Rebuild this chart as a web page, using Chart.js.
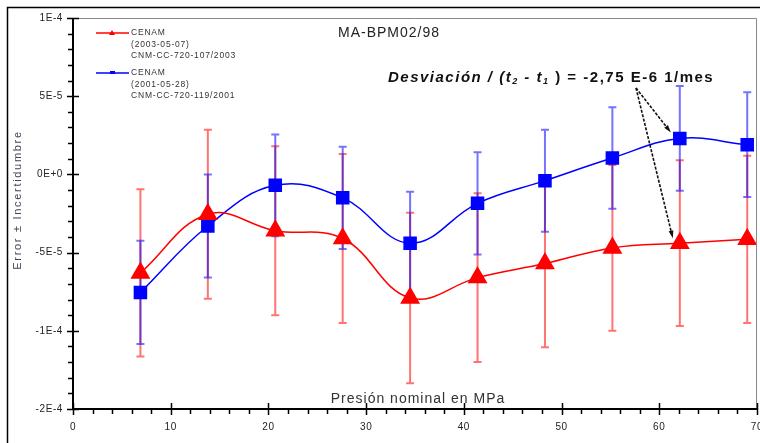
<!DOCTYPE html>
<html>
<head>
<meta charset="utf-8">
<script src="https://cdn.jsdelivr.net/npm/chart.js@4.4.1/dist/chart.umd.min.js"></script>
<style>
  html, body { margin: 0; padding: 0; background: #fff; }
  #wrap { width: 760px; height: 443px; position: relative; }
</style>
</head>
<body>
<div id="wrap"><canvas id="chart" width="760" height="443"></canvas></div>
<script>
// data
const pressures = [6.9, 13.8, 20.7, 27.6, 34.5, 41.4, 48.3, 55.2, 62.1, 69.0];
const redVals  = [-6.3e-5, -2.55e-5, -3.6e-5, -4.1e-5, -7.9e-5, -6.6e-5, -5.7e-5, -4.7e-5, -4.4e-5, -4.15e-5];
const redErr   = [5.35e-5, 5.4e-5, 5.4e-5, 5.4e-5, 5.45e-5, 5.4e-5, 5.35e-5, 5.3e-5, 5.3e-5, 5.35e-5];
const blueVals = [-7.55e-5, -3.3e-5, -0.7e-5, -1.5e-5, -4.4e-5, -1.85e-5, -0.4e-5, 1.05e-5, 2.3e-5, 1.9e-5];
const blueErr  = [3.3e-5, 3.3e-5, 3.25e-5, 3.27e-5, 3.29e-5, 3.27e-5, 3.26e-5, 3.25e-5, 3.35e-5, 3.35e-5];

const xTicks = [0, 10, 20, 30, 40, 50, 60, 70];
const xTickLabels = ['0', '10', '20', '30', '40', '50', '60', '70'];
const yTicks = [1e-4, 5e-5, 0, -5e-5, -1e-4, -1.5e-4];
const yTickLabels = ['1E-4', '5E-5', '0E+0', '-5E-5', '-1E-4', '-2E-4'];

const redLegend = ['CENAM', '(2003-05-07)', 'CNM-CC-720-107/2003'];
const blueLegend = ['CENAM', '(2001-05-28)', 'CNM-CC-720-119/2001'];

const FONT = '"Liberation Sans", Arial, sans-serif';

function pts(vals) {
  return pressures.map((p, i) => ({ x: p, y: vals[i] }));
}

// error bars, drawn under the lines
const errorBars = {
  id: 'errorBars',
  beforeDatasetsDraw(chart) {
    const { ctx, scales: { x, y } } = chart;
    const sets = [
      { vals: redVals, err: redErr, color: 'rgba(255,0,0,0.55)' },
      { vals: blueVals, err: blueErr, color: 'rgba(0,0,255,0.55)' }
    ];
    ctx.save();
    sets.forEach(s => {
      ctx.strokeStyle = s.color;
      ctx.lineWidth = 2;
      pressures.forEach((p, i) => {
        const px = x.getPixelForValue(p);
        const top = y.getPixelForValue(s.vals[i] + s.err[i]);
        const bot = y.getPixelForValue(s.vals[i] - s.err[i]);
        ctx.beginPath();
        ctx.moveTo(px, top); ctx.lineTo(px, bot);
        ctx.moveTo(px - 4, top); ctx.lineTo(px + 4, top);
        ctx.moveTo(px - 4, bot); ctx.lineTo(px + 4, bot);
        ctx.stroke();
      });
    });
    ctx.restore();
  }
};

// axes, frame, legend and labels
const decorations = {
  id: 'decorations',
  afterDraw(chart) {
    const { ctx, chartArea: a, scales: { x, y } } = chart;
    ctx.save();

    // outer frame
    ctx.strokeStyle = '#000';
    ctx.lineWidth = 1.5;
    ctx.strokeRect(7.5, 7.5, 800, 500);

    // plot frame top/right
    ctx.strokeStyle = '#888';
    ctx.lineWidth = 1;
    ctx.beginPath();
    ctx.moveTo(a.left, a.top + 0.5); ctx.lineTo(a.right - 0.5, a.top + 0.5);
    ctx.lineTo(a.right - 0.5, a.bottom);
    ctx.stroke();

    // axis lines
    ctx.strokeStyle = '#000';
    ctx.lineWidth = 2;
    ctx.beginPath();
    ctx.moveTo(a.left, a.top); ctx.lineTo(a.left, a.bottom);
    ctx.lineTo(a.right, a.bottom);
    ctx.stroke();

    // y ticks
    ctx.lineWidth = 1.5;
    ctx.beginPath();
    for (let k = -15; k <= 10; k++) {
      const py = Math.round(y.getPixelForValue(k * 1e-5)) + 0.5;
      if (k % 5 === 0) { ctx.moveTo(a.left - 6, py); ctx.lineTo(a.left + 6, py); }
      else { ctx.moveTo(a.left - 5, py); ctx.lineTo(a.left, py); }
    }
    // x ticks
    for (let v = 0; v <= 70; v += 2) {
      const px = Math.round(x.getPixelForValue(v)) + 0.5;
      if (v % 10 === 0) { ctx.moveTo(px, a.bottom - 6); ctx.lineTo(px, a.bottom + 6); }
      else { ctx.moveTo(px, a.bottom); ctx.lineTo(px, a.bottom + 5); }
    }
    ctx.stroke();

    // tick labels
    ctx.fillStyle = '#222';
    ctx.font = '10px ' + FONT;
    ctx.letterSpacing = '0.6px';
    ctx.textAlign = 'right';
    ctx.textBaseline = 'middle';
    yTicks.forEach((v, i) => ctx.fillText(yTickLabels[i], a.left - 10, y.getPixelForValue(v)));
    ctx.textAlign = 'center';
    xTicks.forEach((v, i) => ctx.fillText(xTickLabels[i], x.getPixelForValue(v), a.bottom + 18));

    // axis titles
    ctx.fillStyle = '#333';
    ctx.font = '14px ' + FONT;
    ctx.letterSpacing = '1px';
    ctx.textAlign = 'center';
    ctx.textBaseline = 'middle';
    ctx.fillText('Presión nominal en MPa', 418, 399);
    ctx.save();
    ctx.translate(18, 200);
    ctx.rotate(-Math.PI / 2);
    ctx.font = '11px ' + FONT;
    ctx.letterSpacing = '1.7px';
    ctx.fillStyle = '#445';
    ctx.fillText('Error ± Incertidumbre', 0, 0);
    ctx.restore();

    // title
    ctx.fillStyle = '#222';
    ctx.font = '14px ' + FONT;
    ctx.letterSpacing = '1px';
    ctx.textAlign = 'left';
    ctx.fillText('MA-BPM02/98', 338, 33);

    // legend
    const drawLegend = (yy, color, style, lines) => {
      ctx.strokeStyle = color;
      ctx.fillStyle = color;
      ctx.lineWidth = 1.5;
      ctx.beginPath(); ctx.moveTo(96, yy); ctx.lineTo(129, yy); ctx.stroke();
      ctx.beginPath();
      if (style === 'tri') { ctx.moveTo(112, yy - 3); ctx.lineTo(115, yy + 2); ctx.lineTo(109, yy + 2); }
      else { ctx.rect(110, yy - 2, 5, 3); }
      ctx.fill();
      ctx.fillStyle = '#333';
      ctx.font = '8.5px ' + FONT;
      ctx.letterSpacing = '0.8px';
      lines.forEach((t, i) => ctx.fillText(t, 131, yy + i * 11.2));
    };
    drawLegend(33, '#ff0000', 'tri', redLegend);
    drawLegend(73, '#0000ff', 'rect', blueLegend);

    // annotation text
    ctx.fillStyle = '#111';
    ctx.letterSpacing = '1.5px';
    let cx = 388;
    const ty = 78;
    const seg = (t, font, dy) => {
      ctx.font = font;
      ctx.fillText(t, cx, ty + (dy || 0));
      cx += ctx.measureText(t).width;
    };
    const it = 'italic bold 15px ' + FONT, sub = 'italic bold 9px ' + FONT, nb = 'bold 15px ' + FONT;
    seg('Desviación / (', it);
    seg('t', it); seg('2', sub, 4);
    seg(' - ', it);
    seg('t', it); seg('1', sub, 4);
    seg(' ) = -2,75 E-6 1/mes', nb);

    // arrows to the 62.1 MPa points
    const sx = 636, sy = 88;
    const targets = [
      [x.getPixelForValue(pressures[8]) - 9, y.getPixelForValue(blueVals[8]) - 6],
      [x.getPixelForValue(pressures[8]) - 7, y.getPixelForValue(redVals[8]) - 5]
    ];
    targets.forEach(([ex, ey]) => {
      const ang = Math.atan2(ey - sy, ex - sx);
      ctx.strokeStyle = '#111';
      ctx.lineWidth = 1.6;
      ctx.setLineDash([3, 1.5]);
      ctx.beginPath(); ctx.moveTo(sx, sy); ctx.lineTo(ex - 5 * Math.cos(ang), ey - 5 * Math.sin(ang)); ctx.stroke();
      ctx.setLineDash([]);
      ctx.fillStyle = '#111';
      ctx.beginPath();
      ctx.moveTo(ex, ey);
      ctx.lineTo(ex - 8 * Math.cos(ang - 0.3), ey - 8 * Math.sin(ang - 0.3));
      ctx.lineTo(ex - 8 * Math.cos(ang + 0.3), ey - 8 * Math.sin(ang + 0.3));
      ctx.closePath();
      ctx.fill();
    });

    ctx.restore();
  }
};

new Chart(document.getElementById('chart'), {
  type: 'line',
  data: {
    datasets: [
      {
        label: 'CENAM (2003-05-07)',
        data: pts(redVals),
        borderColor: '#ff0000',
        backgroundColor: '#ff0000',
        borderWidth: 1.5,
        pointStyle: 'triangle',
        pointRadius: 10,
        tension: 0.4
      },
      {
        label: 'CENAM (2001-05-28)',
        data: pts(blueVals),
        borderColor: '#0000ff',
        backgroundColor: '#0000ff',
        borderWidth: 1.5,
        pointStyle: 'rect',
        pointRadius: 8.5,
        tension: 0.4
      }
    ]
  },
  options: {
    responsive: false,
    animation: false,
    layout: { autoPadding: false, padding: { left: 73, top: 18, right: 3, bottom: 34 } },
    plugins: { legend: { display: false }, tooltip: { enabled: false } },
    scales: {
      x: { type: 'linear', min: 0, max: 70, display: false },
      y: { type: 'linear', min: -1.5e-4, max: 1e-4, display: false }
    }
  },
  plugins: [errorBars, decorations]
});
</script>
</body>
</html>
